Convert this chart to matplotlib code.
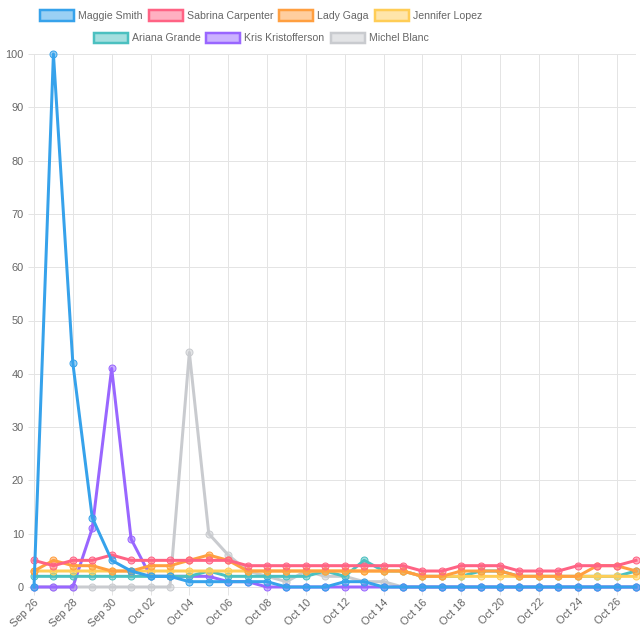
import numpy as np
import matplotlib.pyplot as plt
import pandas as pd
from matplotlib.patches import Patch
from matplotlib.colors import to_rgba
from matplotlib import font_manager

# x categories: one label per day
dates = pd.date_range("2024-09-26", "2024-10-27", freq="D")
labels = [d.strftime("%b %d") for d in dates]

names = ["Maggie Smith", "Sabrina Carpenter", "Lady Gaga", "Jennifer Lopez",
         "Ariana Grande", "Kris Kristofferson", "Michel Blanc"]
colors = ["#36A2EB", "#FF6384", "#FF9F40", "#FFCD56", "#4BC0C0", "#9966FF", "#C9CBCF"]

maggie = [0, 100, 42, 13, 5, 3, 2, 2, 1, 1, 1, 1, 1, 0, 0, 0, 1, 1, 0, 0,
          0, 0, 0, 0, 0, 0, 0, 0, 0, 0, 0, 0]
sabrina = [5, 4, 5, 5, 6, 5, 5, 5, 5, 5, 5, 4, 4, 4, 4, 4, 4, 4, 4, 4,
           3, 3, 4, 4, 4, 3, 3, 3, 4, 4, 4, 5]
gaga = [3, 5, 4, 4, 3, 3, 4, 4, 5, 6, 5, 3, 3, 3, 3, 3, 3, 3, 3, 3,
        2, 2, 3, 3, 3, 2, 2, 2, 2, 4, 4, 3]
jlo = [3, 3, 3, 3, 3, 3, 3, 3, 3, 3, 3, 3, 3, 3, 3, 3, 3, 3, 3, 3,
       2, 2, 2, 2, 2, 2, 2, 2, 2, 2, 2, 2]
ariana = [2, 2, 2, 2, 2, 2, 2, 2, 2, 3, 2, 2, 2, 2, 2, 3, 2, 5, 3, 3,
          2, 2, 2, 3, 3, 2, 2, 2, 2, 2, 2, 3]
kris = [0, 0, 0, 11, 41, 9, 2, 2, 2, 2, 1, 1, 0, 0, 0, 0, 0, 0, 0, 0,
        0, 0, 0, 0, 0, 0, 0, 0, 0, 0, 0, 0]
michel = [0, 0, 0, 0, 0, 0, 0, 0, 44, 10, 6, 3, 2, 1, 3, 2, 2, 1, 1, 0,
          0, 0, 0, 0, 0, 0, 0, 0, 0, 0, 0, 0]
series = [maggie, sabrina, gaga, jlo, ariana, kris, michel]

# font: narrow Arial-like if available
installed = {f.name for f in font_manager.fontManager.ttflist}
if "Liberation Sans Narrow" in installed:
    FONT, FS_PX = "Liberation Sans Narrow", 12
else:
    FONT, FS_PX = "Liberation Sans", 10.5
plt.rcParams["font.family"] = [FONT, "DejaVu Sans"]
PX = 0.72  # points per pixel at dpi 100
fs = FS_PX * PX
TXT = "#666666"
GRID = "#e4e4e4"

fig = plt.figure(figsize=(6.4, 6.4), dpi=100)
ax = fig.add_axes([34 / 640, 53 / 640, 602 / 640, 533 / 640])

x = np.arange(len(labels))
for i, (vals, c) in enumerate(zip(series, colors)):
    ax.plot(x, vals, color=c, lw=3 * PX, marker="o", ms=7 * PX,
            mfc=to_rgba(c, 0.5), mec=c, mew=1 * PX, zorder=20 - i, clip_on=False,
            solid_joinstyle="round")

ax.set_xlim(0, len(labels) - 1)
ax.set_ylim(0, 100)
ax.set_xticks(x[::2])
ax.set_xticklabels(labels[::2], rotation=45, ha="right", va="top", rotation_mode="anchor")
ax.set_yticks(range(0, 101, 10))
ax.grid(True, color=GRID, lw=1 * PX)
ax.set_axisbelow(True)
for s in ["top", "right"]:
    ax.spines[s].set_visible(False)
for s in ["left", "bottom"]:
    ax.spines[s].set_color(GRID)
    ax.spines[s].set_linewidth(1 * PX)
ax.tick_params(axis="both", colors=TXT, labelsize=fs + 0.4, color=GRID, width=1 * PX)
ax.tick_params(axis="x", length=8 * PX, pad=2 * PX)
ax.tick_params(axis="y", length=6 * PX, pad=4 * PX)

# legend, two centred rows
def make_legend(idx, y_px):
    handles = [Patch(facecolor=to_rgba(colors[k], 0.5), edgecolor=colors[k],
                     lw=2.5 * PX, label=names[k]) for k in idx]
    leg = fig.legend(handles=handles, loc="center", ncol=len(idx),
                     bbox_to_anchor=(261 / 640, 1 - y_px / 640), frameon=False,
                     fontsize=fs, handlelength=34 / FS_PX, handleheight=12 / FS_PX,
                     handletextpad=4 / FS_PX, columnspacing=6 / FS_PX,
                     borderpad=0, borderaxespad=0)
    for t in leg.get_texts():
        t.set_color(TXT)
    return leg

make_legend([0, 1, 2, 3], 15.5)
make_legend([4, 5, 6], 38)

fig.savefig("out.png", dpi=100)
